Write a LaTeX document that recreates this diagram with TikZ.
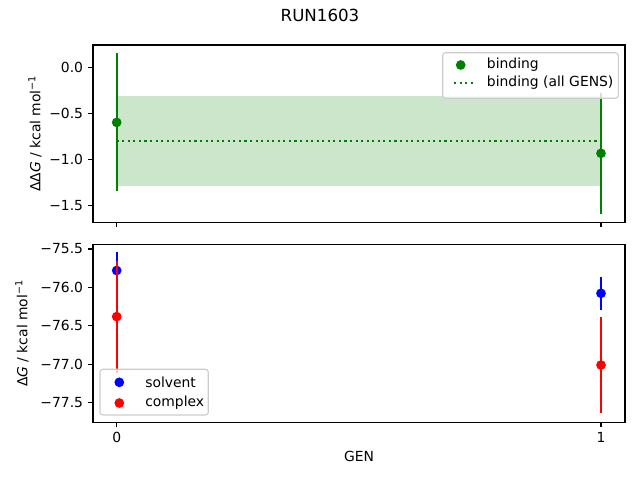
\documentclass[tikz,border=0pt]{standalone}
\usepackage{fontspec}
\setmainfont{DejaVu Sans}
\usepackage{tikz}

\definecolor{mplgreen}{HTML}{008000}
\definecolor{mplblue}{HTML}{0000FF}
\definecolor{mplred}{HTML}{FF0000}
\definecolor{bandgreen}{HTML}{CCE6CC}

\begin{document}
\begin{tikzpicture}[line cap=butt, x=0.72pt, y=-0.72pt,
        axis/.style={line width=0.8pt, line join=miter},
        tick/.style={line width=0.8pt},
        bar/.style={line width=1.5pt},
        dot/.style={circle, inner sep=0pt, minimum size=7pt},
        dots/.style={line width=1.5pt, dash pattern=on 1.5pt off 2.5pt},
        ticklab/.style={inner sep=0pt},
        legbox/.style={draw=black!20, fill=white, fill opacity=0.8, rounded corners=2pt, line width=0.8pt}]
                \useasboundingbox (0,0) rectangle (640,480);

                \node[font=\large] (title) at (320,15.7) {RUN1603};

                % Top panel
                \fill[bandgreen] (116.7,96) rectangle (601,186);
                \draw[dots, mplgreen] (116.7,140.7) -- (601,140.7);
                \draw[bar, mplgreen] (116.7,53.3) -- (116.7,190.7);
                \draw[bar, mplgreen] (601,92.5) -- (601,214);
                \node[dot, fill=mplgreen] (bind0) at (116.7,122.4) {};
                \node[dot, fill=mplgreen] (bind1) at (601,153.3) {};
                \draw[axis] (93,45) rectangle (625,222.3);
                \foreach \v/\lab in {67.3/0.0, 113.3/−0.5, 159.3/−1.0, 205.7/−1.5} {
                    \draw[tick] (93,\v) -- ++(-4.86,0);
                    \node[ticklab, anchor=east] at (83.3,\v) {\lab};
                }
                \foreach \x in {116.7,601}
                    \draw[tick] (\x,222.3) -- ++(0,4.86);
                \node[rotate=90] (ylabtop) at (35,133.6) {ΔΔ\textit{G} / kcal mol\textsuperscript{−1}};

                % Legend 1
                \draw[legbox] (442.7,52.7) rectangle (618.3,98.3);
                \node[dot, fill=mplgreen] (legbind) at (460.7,65) {};
                \node[ticklab, anchor=west] (legbindtxt) at (486.7,65) {binding};
                \draw[dots, mplgreen] (454.3,82.7) -- (474.3,82.7);
                \node[ticklab, anchor=west] (legalltxt) at (486.7,82.7) {binding (all GENS)};

                % Bottom panel
                \draw[bar, mplblue] (116.7,251.7) -- (116.7,289.3);
                \draw[bar, mplblue] (601,277) -- (601,310);
                \node[dot, fill=mplblue] (solv0) at (116.7,270.5) {};
                \node[dot, fill=mplblue] (solv1) at (601,293.3) {};
                \draw[bar, mplred] (116.7,260.5) -- (116.7,372.6);
                \draw[bar, mplred] (601,317.3) -- (601,413.3);
                \node[dot, fill=mplred] (cplx0) at (116.7,316.6) {};
                \node[dot, fill=mplred] (cplx1) at (601,365) {};
                \draw[axis] (93,244.3) rectangle (625,422.3);
                \foreach \v/\lab in {249/−75.5, 287.4/−76.0, 325.8/−76.5, 364.2/−77.0, 402.6/−77.5} {
                    \draw[tick] (93,\v) -- ++(-4.86,0);
                    \node[ticklab, anchor=east] at (83.3,\v) {\lab};
                }
                \foreach \x/\lab in {116.7/0, 601/1} {
                    \draw[tick] (\x,422.3) -- ++(0,4.86);
                    \node[ticklab, anchor=north] at (\x,432) {\lab};
                }
                \node[rotate=90] (ylabbot) at (22,333.3) {Δ\textit{G} / kcal mol\textsuperscript{−1}};
                \node (xlab) at (359,456.7) {GEN};

                % Legend 2
                \draw[legbox] (100,369.3) rectangle (208.3,415);
                \node[dot, fill=mplblue] (legsolv) at (119.3,382.3) {};
                \node[ticklab, anchor=west] (legsolvtxt) at (145,382.3) {solvent};
                \node[dot, fill=mplred] (legcplx) at (119.3,403) {};
                \node[ticklab, anchor=west] (legcplxtxt) at (145,403) {complex};
            \end{tikzpicture}
\end{document}
